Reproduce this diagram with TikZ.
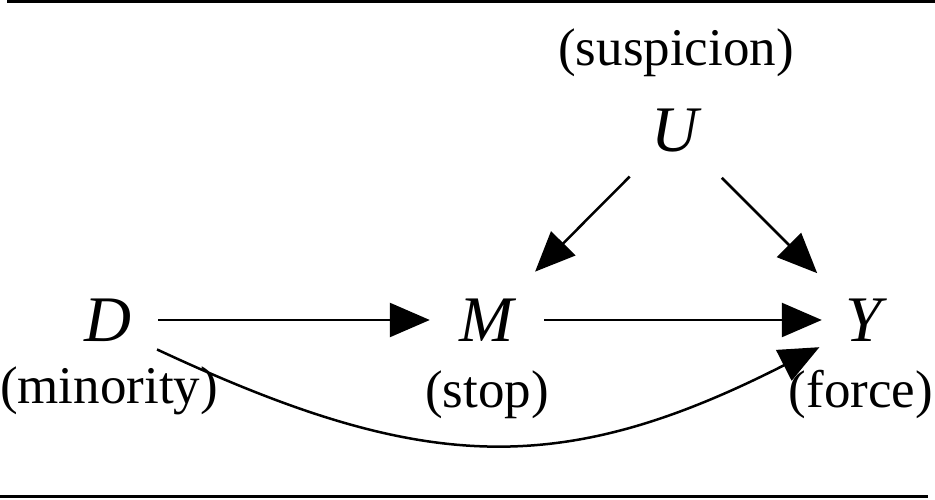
\documentclass[tikz,border=0pt]{standalone}
\usepackage{fontspec}
\setmainfont{Liberation Serif}
\usetikzlibrary{arrows.meta}
\tikzset{
  var/.style={circle, minimum size=114pt, inner sep=0pt, font=\fontsize{65}{70}\selectfont\itshape},
  lab/.style={anchor=base, inner sep=0pt, font=\fontsize{53}{60}\selectfont},
  arr/.style={line width=2.5pt, -{Triangle[length=40pt,width=34pt]}},
  rule/.style={line width=3pt}
}
\begin{document}
\begin{tikzpicture}[x=1pt,y=1pt]
\useasboundingbox (0,0) rectangle (935,500);
\coordinate (tl) at (7,498.5);
\coordinate (tr) at (935,498.5);
\coordinate (bl) at (0,3);
\coordinate (br) at (928,3);
\draw[rule] (tl) -- (tr);
\draw[rule] (bl) -- (br);
\node[var] (D) at (108,180) {D};
\node[var] (M) at (487,180) {M};
\node[var] (Y) at (864,180) {Y};
\node[var] (U) at (675,369) {U};
\node[lab] (ls) at (676,434) {(suspicion)};
\node[lab] (lm) at (109,96) {(minority)};
\node[lab] (lst) at (487,92) {(stop)};
\node[lab] (lf) at (861,92) {(force)};
\draw[arr, shorten <=-7pt] (D) -- (M);
\draw[arr, shorten >=-15pt] (M) -- (Y);
\draw[arr, shorten <=7pt, shorten >=11pt] (U) -- (M);
\draw[arr, shorten <=9pt, shorten >=9pt] (U) -- (Y);
\draw[arr, shorten >=-5pt] (D.-31) .. controls +(-25:289pt) and +(207:289pt) .. (Y.211);
\end{tikzpicture}
\end{document}
